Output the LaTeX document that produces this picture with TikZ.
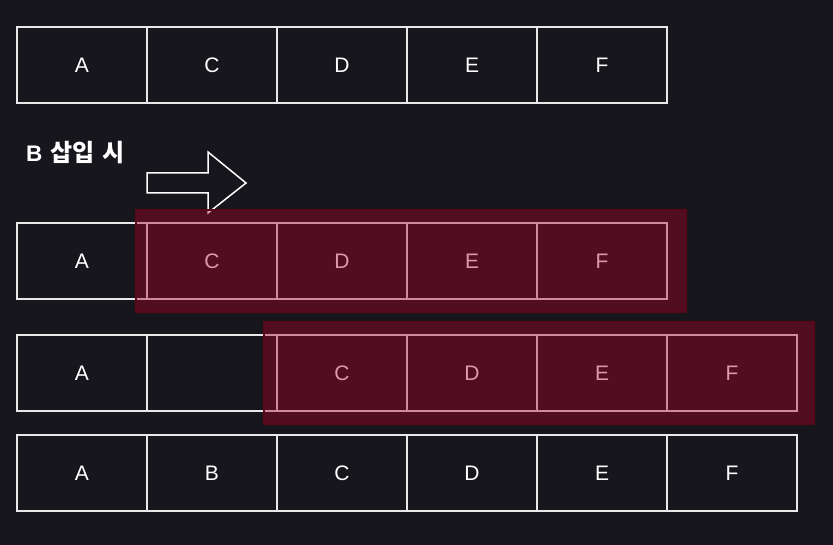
\documentclass[tikz,border=0pt]{standalone}
\usepackage{fontspec}
\setmainfont{Liberation Sans}
\newfontfamily\kofont{Noto Sans CJK KR}
\usetikzlibrary{calc,positioning}
\definecolor{bgdark}{RGB}{24,22,29}
\definecolor{cellline}{RGB}{232,232,232}
\definecolor{hired}{RGB}{171,0,41}
\definecolor{hiedge}{RGB}{88,8,24}
\tikzstyle{cell}=[draw=cellline,line width=2pt,minimum width=130pt,
  minimum height=76pt,inner sep=0pt,text=white,font=\fontsize{21}{25}\selectfont]
\tikzstyle{hilite}=[fill=hired,fill opacity=0.4,draw=hiedge,line width=1.5pt]
\begin{document}
\begin{tikzpicture}[x=1pt,y=-1pt]
        \fill[bgdark] (0,0) rectangle (833,545);
        \useasboundingbox (0,0) rectangle (833,545);
        % First line:
        \node (a_1) [cell] at (82,65) {A};
        \node (a_2) [cell] at (212,65) {C};
        \node (a_3) [cell] at (342,65) {D};
        \node (a_4) [cell] at (472,65) {E};
        \node (a_5) [cell] at (602,65) {F};
        % Title and arrow:
        \node (title) [anchor=base west,text=white,inner sep=0pt,
          font=\bfseries\fontsize{22.5}{27}\selectfont] at (26,161.5)
          {B\hspace{8pt}{\kofont\fontsize{24}{30}\selectfont 삽입\hspace{8pt}시}};
        \draw[white,line width=1.5pt,line join=miter]
          (147,173) -- (208,173) -- (208,152) -- (246,183)
          -- (208,213) -- (208,193) -- (147,193) -- cycle;
        % Second line:
        \node (b_1) [cell] at (82,261) {A};
        \node (b_2) [cell] at (212,261) {C};
        \node (b_3) [cell] at (342,261) {D};
        \node (b_4) [cell] at (472,261) {E};
        \node (b_5) [cell] at (602,261) {F};
        \draw[hilite] ($(b_2.north west)+(-10,-12)$) rectangle ($(b_5.south east)+(18,12)$);
        % Third line:
        \node (c_1) [cell] at (82,373) {A};
        \node (c_2) [cell] at (212,373) {};
        \node (c_3) [cell] at (342,373) {C};
        \node (c_4) [cell] at (472,373) {D};
        \node (c_5) [cell] at (602,373) {E};
        \node (c_6) [cell] at (732,373) {F};
        \draw[hilite] ($(c_3.north west)+(-12,-12)$) rectangle ($(c_6.south east)+(16,12)$);
        % Fourth line:
        \node (d_1) [cell] at (82,473) {A};
        \node (d_2) [cell] at (212,473) {B};
        \node (d_3) [cell] at (342,473) {C};
        \node (d_4) [cell] at (472,473) {D};
        \node (d_5) [cell] at (602,473) {E};
        \node (d_6) [cell] at (732,473) {F};
\end{tikzpicture}
\end{document}
